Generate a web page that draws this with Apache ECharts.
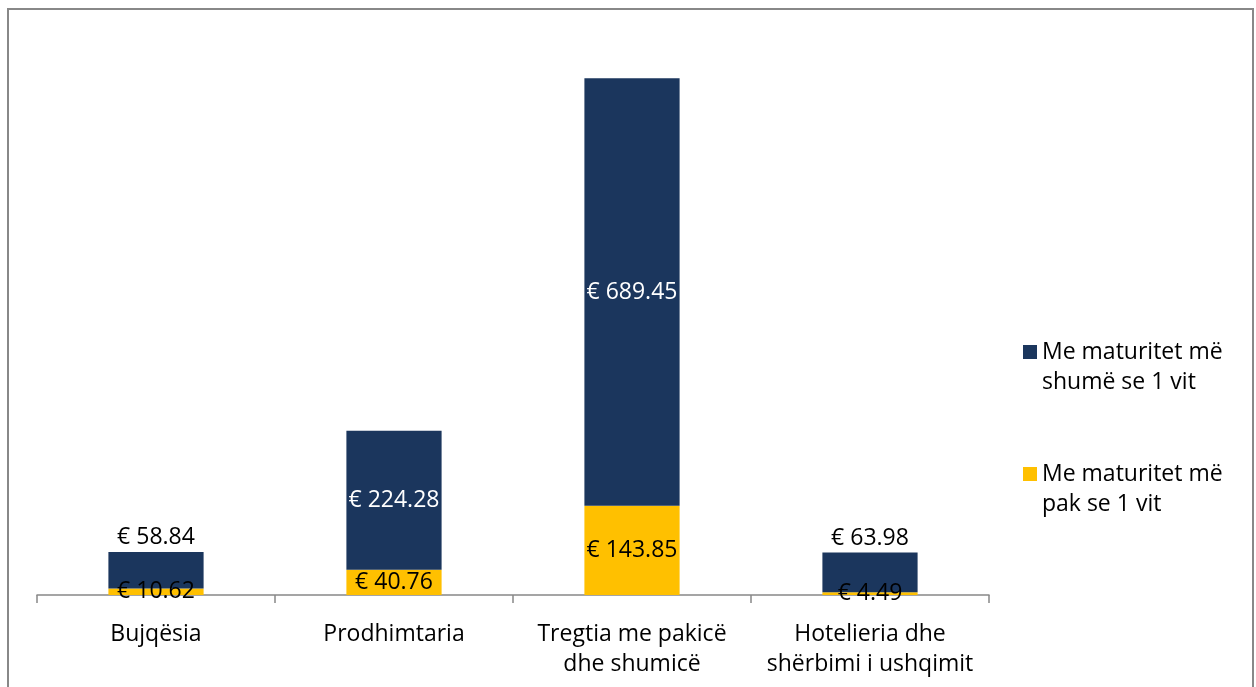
<!DOCTYPE html>
<html>
<head>
<meta charset="utf-8">
<script src="https://cdn.jsdelivr.net/npm/echarts@6/dist/echarts.min.js"></script>
<style>
html, body { margin: 0; padding: 0; background: #fff; }
#chart { width: 1256px; height: 687px; }
</style>
</head>
<body>
<div id="chart"></div>
<script>
// sektoret dhe vlerat (milion €)
var categories = ['Bujqësia', 'Prodhimtaria', 'Tregtia me pakicë\ndhe shumicë', 'Hotelieria dhe\nshërbimi i ushqimit'];
var seriesNames = ['Me maturitet më\nshumë se 1 vit', 'Me maturitet më\npak se 1 vit'];
var longTerm = [58.84, 224.28, 689.45, 63.98];
var shortTerm = [10.62, 40.76, 143.85, 4.49];

var FONT = '"Open Sans"';
var FS = 23;
function euro(p) { return '€ ' + p.value.toFixed(2); }

// etiketat e vogla dalin mbi shtyllë, te tjerat brenda
var longData = longTerm.map(function (v) {
	var small = v < 100;
	return {
		value: v,
		label: {
			position: small ? 'top' : 'inside',
			color: small ? '#000' : '#fff'
		}
	};
});

var chart = echarts.init(document.getElementById('chart'));
chart.setOption({
	animation: false,
	backgroundColor: '#fff',
	graphic: [{
		type: 'rect',
		shape: { x: 8, y: 9, width: 1245, height: 700 },
		style: { fill: 'none', stroke: '#888', lineWidth: 2 },
		silent: true
	}],
	grid: { left: 37, right: 267, top: 37, bottom: 92 },
	legend: {
		orient: 'vertical',
		left: 1018,
		top: 332,
		itemGap: 62,
		itemWidth: 14,
		itemHeight: 44,
		icon: 'path://M0,0h14v14h-14z M0,43.99h0.01v0.01h-0.01z',
		textStyle: { fontFamily: FONT, fontSize: FS, color: '#000', lineHeight: 30 },
		data: seriesNames.slice()
	},
	xAxis: {
		type: 'category',
		data: categories,
		axisLine: { lineStyle: { color: '#888', width: 1.5 } },
		axisTick: { show: true, interval: 0, length: 8, lineStyle: { color: '#888', width: 1.5 } },
		axisLabel: { interval: 0, hideOverlap: false, fontFamily: FONT, fontSize: FS, color: '#000', lineHeight: 30, margin: 24 }
	},
	yAxis: {
		type: 'value',
		min: 0,
		max: 900,
		show: false,
		splitLine: { show: false }
	},
	series: [{
		name: seriesNames[1],
		type: 'bar',
		stack: 'total',
		barWidth: '40%',
		itemStyle: { color: '#FFC000' },
		label: { show: true, position: 'inside', color: '#000', fontFamily: FONT, fontSize: FS, formatter: euro },
		data: shortTerm
	}, {
		name: seriesNames[0],
		type: 'bar',
		stack: 'total',
		barWidth: '40%',
		itemStyle: { color: '#1B365D' },
		label: { show: true, fontFamily: FONT, fontSize: FS, distance: 3, formatter: euro },
		data: longData
	}]
});
</script>
</body>
</html>
